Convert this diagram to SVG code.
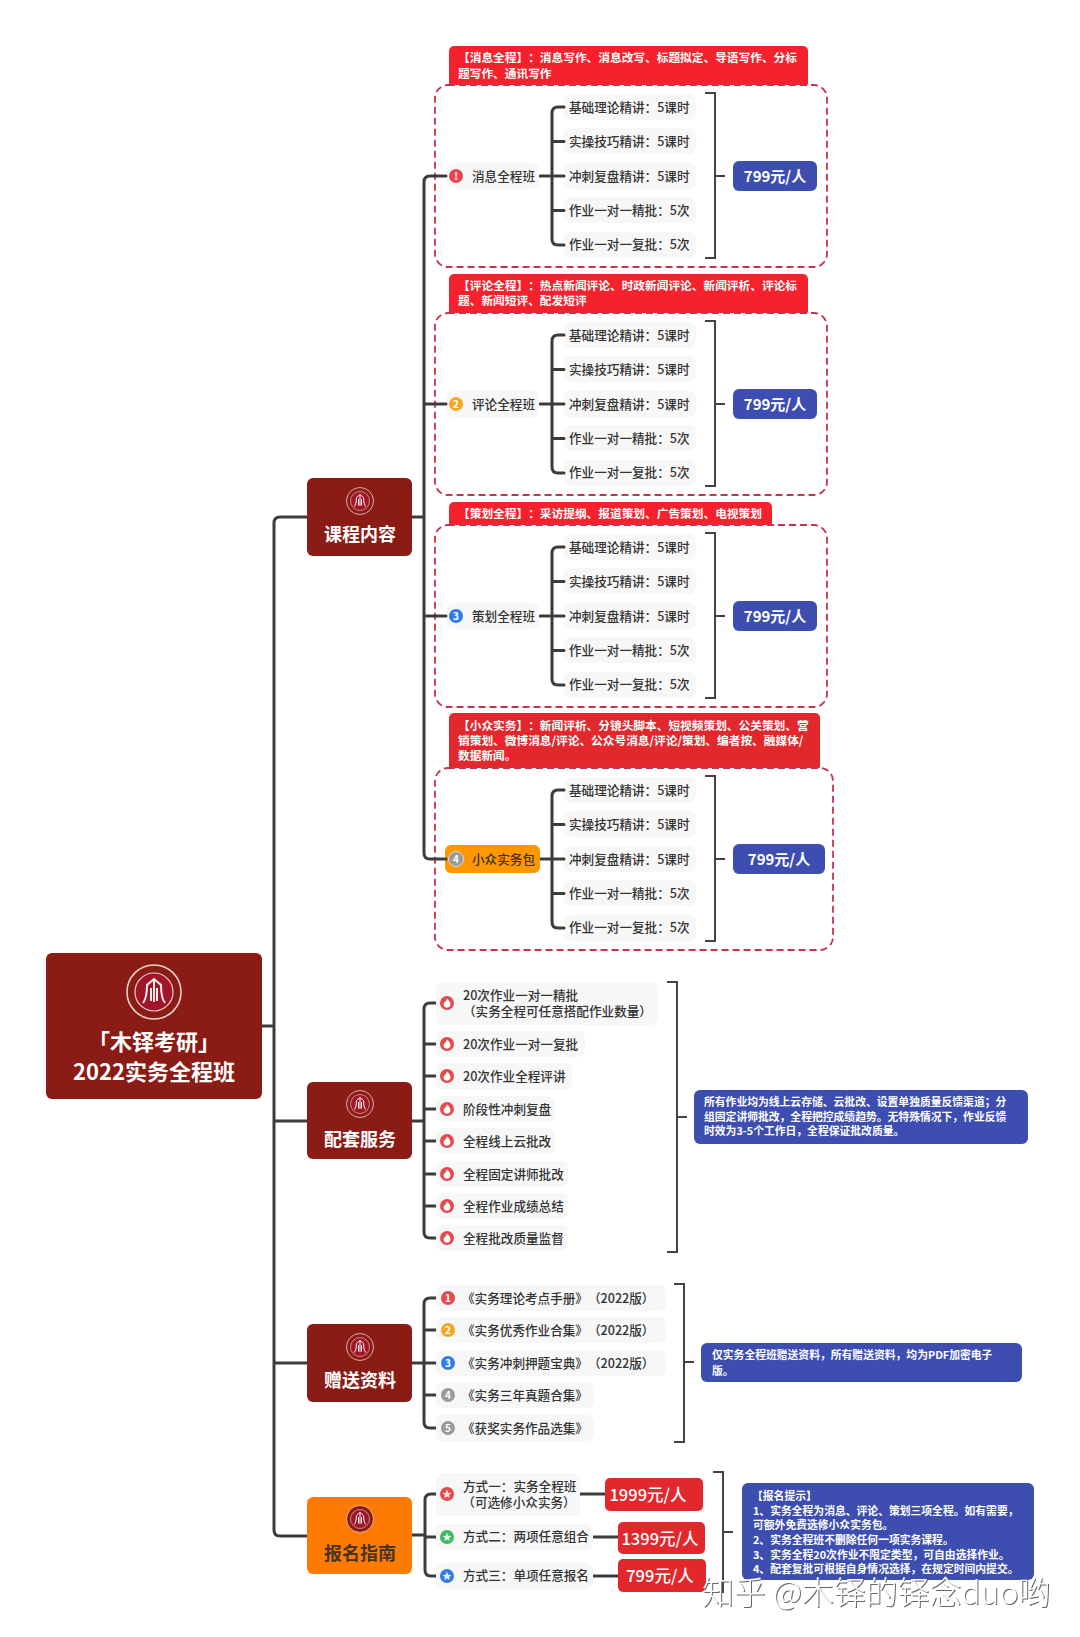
<svg xmlns="http://www.w3.org/2000/svg" width="1080" height="1637" viewBox="0 0 1080 1637">
<style>
text{font-family:"Noto Sans CJK SC","Liberation Sans",sans-serif;text-spacing-trim:space-all}
.c{fill:none;stroke:#3c3c3c;stroke-width:3;stroke-linecap:round}
.b{fill:none;stroke:#444;stroke-width:2}
.p{fill:#f7f7f7}
.t{font-size:12.6px;fill:#333;font-weight:500}
.d{fill:none;stroke:#c8334b;stroke-width:1.8;stroke-dasharray:7 4}
.h{fill:#f5222d}
.ht{font-size:11.7px;font-weight:700;fill:#fff}
.nav{fill:#8b1c15}
.nt{font-size:18px;font-weight:700;fill:#fff;text-anchor:middle}
.price{fill:#3d4eb0}
.pt{font-size:15px;font-weight:700;fill:#fff;text-anchor:middle}
.nb{font-size:10.8px;font-weight:700;fill:#fff}
.rp{fill:#e2282d}
.rt{font-size:16.5px;font-weight:500;fill:#fff;text-anchor:middle}
.ic{font-size:10px;font-weight:700;fill:#fff;text-anchor:middle}
</style>
<defs>
<g id="logo">
<circle r="13.500" fill="#8b1c15" stroke="#ecd0ca" stroke-width=".8"/>
<circle r="9.500" fill="#a0152a" stroke="#ecd0ca" stroke-width=".6"/>
<path d="M-5.500 5.500Q-3.500 3-3.500-3.500L0-6.500L3.500-3.500Q3.500 3 5.500 5.500M0-6.500V5M-1.500-2V4.500M1.500-2V4.500" fill="none" stroke="#f8ecea" stroke-width="1"/>
</g>
<g id="fire"><circle r="7" fill="#e5484d"/><path d="M0-4.500C2.200-2.500 4 0 3.400 2.200A3.500 3.500 0 0 1-3.400 2.200C-3.800 0-2.300-1-1.200-1.700C-.8-2.800-.6-3.400 0-4.500Z" fill="#fff"/></g>
<g id="star"><polygon points="0,-4.400 1.300,-1.300 4.400,-1.100 2.100,1 2.700,4 0,2.400 -2.700,4 -2.100,1 -4.400,-1.100 -1.300,-1.300" fill="#fff" fill-opacity=".85"/></g>
<g id="block">
<rect class="p" x="564" y="-82" width="132" height="26" rx="7"/>
<rect class="p" x="564" y="-48" width="132" height="26" rx="7"/>
<rect class="p" x="564" y="-13" width="132" height="26" rx="7"/>
<rect class="p" x="564" y="21" width="132" height="26" rx="7"/>
<rect class="p" x="564" y="56" width="132" height="26" rx="7"/>
<text class="t" x="569" y="-64.500">基础理论精讲：5课时</text>
<text class="t" x="569" y="-30">实操技巧精讲：5课时</text>
<text class="t" x="569" y="4.500">冲刺复盘精讲：5课时</text>
<text class="t" x="569" y="38.500">作业一对一精批：5次</text>
<text class="t" x="569" y="73">作业一对一复批：5次</text>
<path class="c" d="M564-69H558Q552-69 552-63V63Q552 69 558 69H564M552-34.500H564M540 0H564M552 34.500H564"/>
<path class="b" d="M705-83H715V82H705M715 0H725"/>
</g>
</defs>
<rect width="1080" height="1637" fill="#fff"/>
<g id="info1">
<rect class="h" x="449" y="46" width="359" height="42" rx="5"/>
<text class="ht" x="458" y="62">【消息全程】：消息写作、消息改写、标题拟定、导语写作、分标</text>
<text class="ht" x="458" y="78">题写作、通讯写作</text>
<rect class="h" x="449" y="274" width="359" height="42" rx="5"/>
<text class="ht" x="458" y="290">【评论全程】：热点新闻评论、时政新闻评论、新闻评析、评论标</text>
<text class="ht" x="458" y="305">题、新闻短评、配发短评</text>
<rect class="h" x="449" y="502" width="323" height="26" rx="5"/>
<text class="ht" x="458" y="518">【策划全程】：采访提纲、报道策划、广告策划、电视策划</text>
<rect class="rp" x="449" y="713" width="371" height="58" rx="5"/>
<text class="ht" x="458" y="730">【小众实务】：新闻评析、分镜头脚本、短视频策划、公关策划、营</text>
<text class="ht" x="458" y="745">销策划、微博消息/评论、公众号消息/评论/策划、编者按、融媒体/</text>
<text class="ht" x="458" y="760">数据新闻。</text>
</g>
<g id="course1">
<rect x="435" y="85" width="392" height="182" rx="13" fill="#fff"/><rect class="d" x="435" y="85" width="392" height="182" rx="13"/>
<use href="#block" y="176"/>
<rect class="p" x="446" y="163" width="93" height="26" rx="7"/>
<circle cx="456" cy="176" r="7" fill="#e5484d"/><text class="ic" x="456" y="179.500">!</text>
<text class="t" x="472" y="180.500">消息全程班</text>
<rect class="price" x="733" y="161" width="84" height="30" rx="6"/><text class="pt" x="775" y="181.500">799元/人</text>
</g>
<g id="course2">
<rect x="435" y="313" width="392" height="182" rx="13" fill="#fff"/><rect class="d" x="435" y="313" width="392" height="182" rx="13"/>
<use href="#block" y="404"/>
<rect class="p" x="446" y="391" width="93" height="26" rx="7"/>
<circle cx="456" cy="404" r="7" fill="#f5a623"/><text class="ic" x="456" y="407.500">2</text>
<text class="t" x="472" y="408.500">评论全程班</text>
<rect class="price" x="733" y="389" width="84" height="30" rx="6"/><text class="pt" x="775" y="409.500">799元/人</text>
</g>
<g id="course3">
<rect x="435" y="525" width="392" height="182" rx="13" fill="#fff"/><rect class="d" x="435" y="525" width="392" height="182" rx="13"/>
<use href="#block" y="616"/>
<rect class="p" x="446" y="603" width="93" height="26" rx="7"/>
<circle cx="456" cy="616" r="7" fill="#2f7de1"/><text class="ic" x="456" y="619.500">3</text>
<text class="t" x="472" y="620.500">策划全程班</text>
<rect class="price" x="733" y="601" width="84" height="30" rx="6"/><text class="pt" x="775" y="621.500">799元/人</text>
</g>
<g id="course4">
<rect x="435" y="768" width="398" height="182" rx="13" fill="#fff"/><rect class="d" x="435" y="768" width="398" height="182" rx="13"/>
<use href="#block" y="859"/>
<rect x="445" y="845" width="95" height="28" rx="6" fill="#ff9800"/>
<circle cx="456" cy="859" r="7.500" fill="#9a9a9a" stroke="#ddd"/><text class="ic" x="456" y="862.500">4</text>
<text class="t" x="472" y="863.500">小众实务包</text>
<rect class="price" x="733" y="844" width="92" height="30" rx="6"/><text class="pt" x="779" y="864.500">799元/人</text>
</g>
<g id="connectors">
<path class="c" d="M262 1026H274M307 517H280Q274 517 274 523V1530Q274 1536 280 1536H308M274 1121H308M274 1363H308"/>
<path class="c" d="M412 517H424M446 176H430Q424 176 424 182V853Q424 859 430 859H446M424 404H446M424 616H446"/>
<path class="c" d="M412 1121H424M436 1003H430Q424 1003 424 1009V1232Q424 1238 430 1238H436M424 1044H436M424 1076H436M424 1109H436M424 1141H436M424 1174H436M424 1206H436"/>
<path class="c" d="M412 1363H436M436 1298H430Q424 1298 424 1304V1422Q424 1428 430 1428H436M424 1330H436M424 1395H436"/>
<path class="c" d="M412 1535H425M436 1494H431Q425 1494 425 1500V1570Q425 1576 431 1576H436M425 1537H436M580 1494H605M593 1537H618M593 1576H618"/>
<path class="b" d="M667 982H677V1252H667M677 1117H687M674 1284H684V1442H674M684 1362H694M713 1472H723V1592H713M723 1532H733"/>
</g>
<g id="root">
<rect class="nav" x="46" y="953" width="216" height="146" rx="6"/>
<use href="#logo" transform="translate(154 992) scale(2)"/>
<text x="154" y="1050" font-size="22" font-weight="700" fill="#fff" text-anchor="middle">「木铎考研」</text>
<text x="154" y="1080" font-size="22" font-weight="700" fill="#fff" text-anchor="middle">2022实务全程班</text>
</g>
<g id="n-course"><rect class="nav" x="307" y="478" width="105" height="78" rx="6"/><use href="#logo" x="360" y="501"/><text class="nt" x="360" y="541">课程内容</text></g>
<g id="n-service"><rect class="nav" x="307" y="1082" width="105" height="77" rx="6"/><use href="#logo" x="360" y="1104"/><text class="nt" x="360" y="1146">配套服务</text></g>
<g id="n-gift"><rect class="nav" x="307" y="1324" width="105" height="78" rx="6"/><use href="#logo" x="360" y="1347"/><text class="nt" x="360" y="1387">赠送资料</text></g>
<g id="n-signup"><rect x="307" y="1497" width="105" height="77" rx="6" fill="#ff7a00"/><use href="#logo" x="360" y="1519"/><text class="nt" x="360" y="1559.500" style="fill:#4a3320">报名指南</text></g>
<g id="service">
<rect class="p" x="436" y="982" width="222" height="43" rx="7"/>
<rect class="p" x="436" y="1031" width="149" height="26" rx="7"/>
<rect class="p" x="436" y="1063" width="136" height="26" rx="7"/>
<rect class="p" x="436" y="1096" width="119" height="26" rx="7"/>
<rect class="p" x="436" y="1128" width="119" height="26" rx="7"/>
<rect class="p" x="436" y="1161" width="132" height="26" rx="7"/>
<rect class="p" x="436" y="1193" width="132" height="26" rx="7"/>
<rect class="p" x="436" y="1225" width="132" height="26" rx="7"/>
<use href="#fire" x="447" y="1003"/><use href="#fire" x="447" y="1044"/><use href="#fire" x="447" y="1076"/><use href="#fire" x="447" y="1109"/><use href="#fire" x="447" y="1141"/><use href="#fire" x="447" y="1174"/><use href="#fire" x="447" y="1206"/><use href="#fire" x="447" y="1238"/>
<text class="t" x="463" y="999.500">20次作业一对一精批</text>
<text class="t" x="463" y="1015.500">（实务全程可任意搭配作业数量）</text>
<text class="t" x="463" y="1048.500">20次作业一对一复批</text>
<text class="t" x="463" y="1080.500">20次作业全程评讲</text>
<text class="t" x="463" y="1113.500">阶段性冲刺复盘</text>
<text class="t" x="463" y="1145.500">全程线上云批改</text>
<text class="t" x="463" y="1178.500">全程固定讲师批改</text>
<text class="t" x="463" y="1210.500">全程作业成绩总结</text>
<text class="t" x="463" y="1242.500">全程批改质量监督</text>
<rect class="price" x="694" y="1090" width="334" height="54" rx="6"/>
<text class="nb" x="704" y="1106">所有作业均为线上云存储、云批改、设置单独质量反馈渠道；分</text>
<text class="nb" x="704" y="1121">组固定讲师批改，全程把控成绩趋势。无特殊情况下，作业反馈</text>
<text class="nb" x="704" y="1135">时效为3-5个工作日，全程保证批改质量。</text>
</g>
<g id="gift">
<rect class="p" x="436" y="1285" width="230" height="26" rx="7"/>
<rect class="p" x="436" y="1317" width="230" height="26" rx="7"/>
<rect class="p" x="436" y="1350" width="230" height="26" rx="7"/>
<rect class="p" x="436" y="1382" width="158" height="26" rx="7"/>
<rect class="p" x="436" y="1415" width="158" height="26" rx="7"/>
<circle cx="448" cy="1298" r="7" fill="#e5484d"/><text class="ic" x="448" y="1301.500">1</text>
<circle cx="448" cy="1330" r="7" fill="#f5a623"/><text class="ic" x="448" y="1333.500">2</text>
<circle cx="448" cy="1363" r="7" fill="#2f7de1"/><text class="ic" x="448" y="1366.500">3</text>
<circle cx="448" cy="1395" r="7" fill="#9a9a9a"/><text class="ic" x="448" y="1398.500">4</text>
<circle cx="448" cy="1428" r="7" fill="#9a9a9a"/><text class="ic" x="448" y="1431.500">5</text>
<text class="t" x="462" y="1302.500">《实务理论考点手册》（2022版）</text>
<text class="t" x="462" y="1334.500">《实务优秀作业合集》（2022版）</text>
<text class="t" x="462" y="1367.500">《实务冲刺押题宝典》（2022版）</text>
<text class="t" x="462" y="1399.500">《实务三年真题合集》</text>
<text class="t" x="462" y="1432.500">《获奖实务作品选集》</text>
<rect class="price" x="701" y="1343" width="321" height="39" rx="6"/>
<text class="nb" x="712" y="1359">仅实务全程班赠送资料，所有赠送资料，均为PDF加密电子</text>
<text class="nb" x="712" y="1375">版。</text>
</g>
<g id="signup">
<rect class="p" x="436" y="1473" width="144" height="43" rx="7"/>
<rect class="p" x="436" y="1524" width="157" height="26" rx="7"/>
<rect class="p" x="436" y="1563" width="157" height="26" rx="7"/>
<circle cx="447" cy="1494" r="7" fill="#e5484d"/><use href="#star" x="447" y="1494"/>
<circle cx="447" cy="1537" r="7" fill="#3cb95b"/><use href="#star" x="447" y="1537"/>
<circle cx="447" cy="1576" r="7" fill="#2f7de1"/><use href="#star" x="447" y="1576"/>
<text class="t" x="463" y="1491">方式一：实务全程班</text>
<text class="t" x="519" y="1507" text-anchor="middle">（可选修小众实务）</text>
<text class="t" x="463" y="1541">方式二：两项任意组合</text>
<text class="t" x="463" y="1580">方式三：单项任意报名</text>
<rect class="rp" x="605" y="1478" width="98" height="33" rx="5"/><text class="rt" x="648" y="1500.500">1999元/人</text>
<rect class="rp" x="618" y="1522" width="87" height="32" rx="5"/><text class="rt" x="660" y="1544.500">1399元/人</text>
<rect class="rp" x="618" y="1559" width="88" height="33" rx="5"/><text class="rt" x="660" y="1581.500">799元/人</text>
<rect class="price" x="742" y="1483" width="292" height="97" rx="6"/>
<text class="nb" x="752" y="1500">【报名提示】</text>
<text class="nb" x="753" y="1515">1、实务全程为消息、评论、策划三项全程。如有需要，</text>
<text class="nb" x="753" y="1529">可额外免费选修小众实务包。</text>
<text class="nb" x="753" y="1544">2、实务全程班不删除任何一项实务课程。</text>
<text class="nb" x="753" y="1559">3、实务全程20次作业不限定类型，可自由选择作业。</text>
<text class="nb" x="753" y="1573">4、配套复批可根据自身情况选择，在规定时间内提交。</text>
</g>
<text id="watermark" x="702" y="1604" font-size="31.900" font-weight="300" fill="#fff" style="filter:drop-shadow(1px 1px .6px #666)">知乎 @木铎的铎念duo哟</text>
</svg>
